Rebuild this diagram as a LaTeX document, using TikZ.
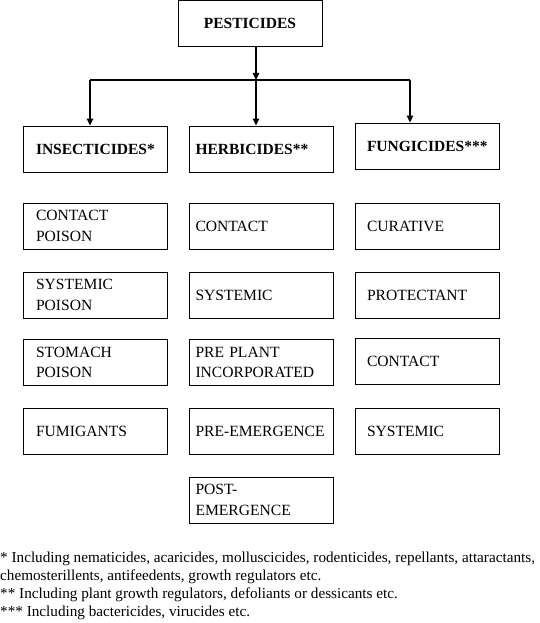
\documentclass[tikz,border=0pt]{standalone}
\usepackage{fontspec}
\setmainfont{Liberation Serif}
\usetikzlibrary{arrows.meta}
\begin{document}
\begin{tikzpicture}[x=1pt,y=-1pt,
  box/.style={draw, line width=0.9pt, minimum width=144pt, minimum height=46pt,
    align=left, inner ysep=0pt, font=\fontsize{15.6}{20.5}\selectfont},
  bbox/.style={box, font=\fontsize{15.5}{20.5}\selectfont\bfseries},
  c1/.style={inner xsep=13pt, text width=118pt},
  c2/.style={inner xsep=6.5pt, text width=131pt},
  c3/.style={inner xsep=12pt, text width=120pt},
  conn/.style={line width=1.1pt},
  arr/.style={conn, -{Triangle[length=7pt,width=6.5pt]}},
  note/.style={anchor=base west, inner sep=0pt, font=\fontsize{15.2}{18}\selectfont}]
\useasboundingbox (0,0) rectangle (540,623);
\node[bbox, align=center, text width=130pt] (pest) at (250,23.5) {PESTICIDES};
\node[bbox,c1] (ins) at (95,149) {INSECTICIDES*};
\node[bbox,c2] (herb) at (261,149) {HERBICIDES**};
\node[bbox,c3] (fung) at (427,146) {FUNGICIDES***};
\node[box,c1] (i1) at (95,226) {CONTACT\\POISON};
\node[box,c1] (i2) at (95,295) {SYSTEMIC\\POISON};
\node[box,c1] (i3) at (95,362.5) {STOMACH\\POISON};
\node[box,c1] (i4) at (95,431.5) {FUMIGANTS};
\node[box,c2] (h1) at (261,226) {CONTACT};
\node[box,c2] (h2) at (261,295) {SYSTEMIC};
\node[box,c2] (h3) at (261,362.5) {PRE PLANT\\INCORPORATED};
\node[box,c2] (h4) at (261,431.5) {PRE-EMERGENCE};
\node[box,c2] (h5) at (261,500) {POST-\\EMERGENCE};
\node[box,c3] (f1) at (427,226) {CURATIVE};
\node[box,c3] (f2) at (427,295) {PROTECTANT};
\node[box,c3] (f3) at (427,361.5) {CONTACT};
\node[box,c3] (f4) at (427,431.5) {SYSTEMIC};
\coordinate (j) at (256,80);
\coordinate (jl) at (90,80);
\coordinate (jr) at (410,80);
\draw[arr] (pest.south -| j) -- (j);
\draw[conn] (jl) -- (jr);
\draw[arr] (jl) -- (jl |- ins.north);
\draw[arr] (j) -- (j |- herb.north);
\draw[arr] (jr) -- (jr |- fung.north);
\node[note] (n1) at (0,562.5) {* Including nematicides, acaricides, molluscicides, rodenticides, repellants, attaractants,};
\node[note] (n2) at (0,580.5) {chemosterillents, antifeedents, growth regulators etc.};
\node[note] (n3) at (0,598.5) {** Including plant growth regulators, defoliants or dessicants etc.};
\node[note] (n4) at (0,616.5) {*** Including bactericides, virucides etc.};
\end{tikzpicture}
\end{document}
